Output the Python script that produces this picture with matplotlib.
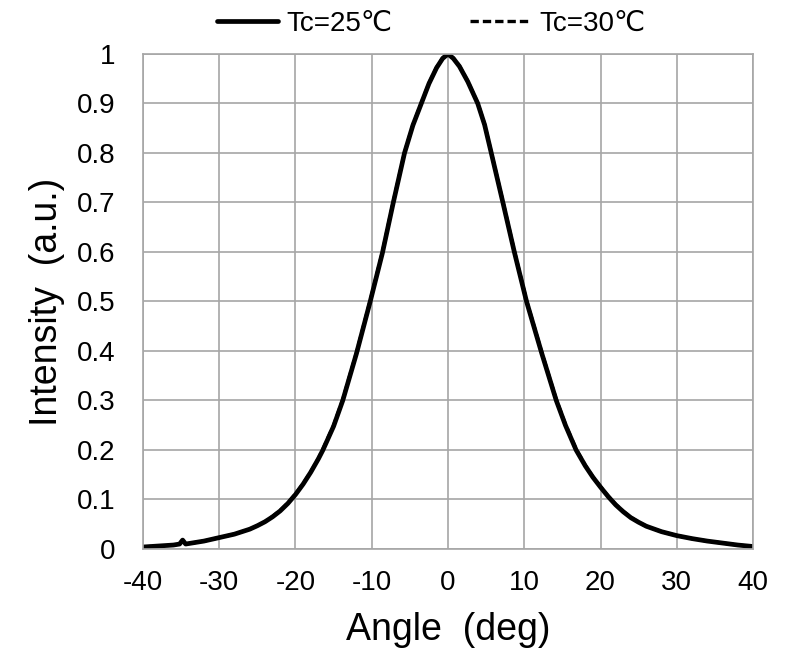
import numpy as np
import matplotlib.pyplot as plt

plt.rcParams['font.family'] = ['Liberation Sans', 'DejaVu Sans']
plt.rcParams['axes.unicode_minus'] = False

# Angle (deg) and intensity
angle = [-40, -38, -36, -35.2, -34.8, -34.4, -34, -32, -30, -28, -26, -25, -24,
         -23, -22, -21, -20, -19, -18, -17, -16.4, -15, -13.8, -12, -10.2, -8.6,
         -7.2, -5.7, -4.6, -3.5, -2.5, -1.5, -0.7, 0, 0.7, 1.5, 2.6, 3.9, 4.8,
         5.6, 7.2, 8.7, 10.3, 12.3, 14.2, 15.4, 16.8, 18, 19, 20, 21, 22, 23, 24,
         25, 26, 28, 30, 32, 34, 35, 36, 38, 40]
int_25 = [0.004, 0.006, 0.008, 0.010, 0.018, 0.010, 0.011, 0.016, 0.023, 0.030,
          0.040, 0.047, 0.055, 0.065, 0.077, 0.092, 0.110, 0.131, 0.155, 0.182,
          0.200, 0.248, 0.300, 0.395, 0.500, 0.598, 0.698, 0.800, 0.856, 0.900,
          0.940, 0.972, 0.991, 1.000, 0.991, 0.975, 0.944, 0.900, 0.857, 0.805,
          0.700, 0.600, 0.500, 0.395, 0.300, 0.250, 0.200, 0.168, 0.145, 0.125,
          0.106, 0.089, 0.075, 0.063, 0.054, 0.046, 0.035, 0.027, 0.021, 0.016,
          0.014, 0.012, 0.008, 0.005]
int_30 = [0.004, 0.006, 0.008, 0.010, 0.017, 0.010, 0.011, 0.016, 0.023, 0.030,
          0.040, 0.047, 0.055, 0.066, 0.078, 0.093, 0.111, 0.132, 0.156, 0.183,
          0.202, 0.250, 0.302, 0.397, 0.502, 0.600, 0.700, 0.801, 0.857, 0.901,
          0.941, 0.973, 0.992, 1.000, 0.992, 0.976, 0.945, 0.901, 0.858, 0.806,
          0.702, 0.602, 0.502, 0.397, 0.302, 0.252, 0.202, 0.169, 0.146, 0.126,
          0.107, 0.090, 0.076, 0.064, 0.054, 0.046, 0.035, 0.027, 0.021, 0.016,
          0.014, 0.012, 0.008, 0.005]

fig = plt.figure(figsize=(7.89, 6.6), dpi=100)
ax = fig.add_axes([0.1812, 0.1682, 0.7732, 0.75])

ax.plot(angle, int_25, color='black', lw=3.4, label='Tc=25℃',
        solid_joinstyle='round', solid_capstyle='round')
ax.plot(angle, int_30, color='black', lw=2.4, ls=(0, (2.5, 1.2)), label='Tc=30℃')

ax.set_xlim(-40, 40)
ax.set_ylim(0, 1)
ax.set_xticks(np.arange(-40, 41, 10))
ax.set_yticks(np.arange(0, 1.01, 0.1))
ax.set_yticklabels(['0'] + ['%.1f' % v for v in np.arange(0.1, 0.95, 0.1)] + ['1'])
ax.grid(True, color='#a6a6a6', lw=1.2)
ax.set_axisbelow(True)
for s in ax.spines.values():
    s.set_color('#a6a6a6')
    s.set_linewidth(1.2)
ax.tick_params(axis='x', length=0, labelsize=20, pad=15)
ax.tick_params(axis='y', length=0, labelsize=20, pad=20)

ax.set_xlabel('Angle  (deg)', fontsize=27, labelpad=12)
ax.set_ylabel('Intensity  (a.u.)', fontsize=27, labelpad=8)

ax.legend(loc='lower center', bbox_to_anchor=(0.472, 1.035), ncol=2, frameon=False,
          fontsize=20, handlelength=2.2, handletextpad=0.3, columnspacing=2.8,
          borderaxespad=0, borderpad=0)

plt.savefig('out.png')
